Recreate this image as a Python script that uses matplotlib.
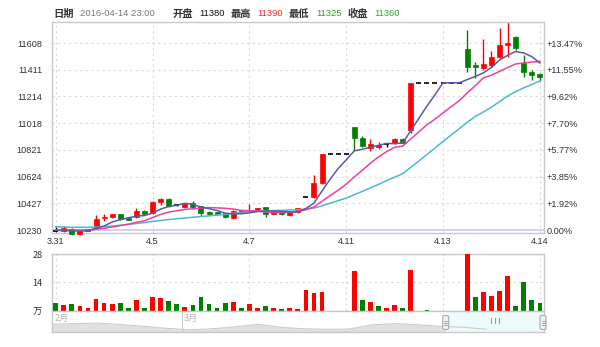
import matplotlib
matplotlib.use('Agg')
import matplotlib.pyplot as plt
import numpy as np
import pandas as pd
from matplotlib.patches import Rectangle, FancyBboxPatch

plt.rcParams['font.family'] = ['Liberation Sans', 'Noto Sans CJK SC', 'DejaVu Sans']
CJK = ['Noto Sans CJK SC', 'DejaVu Sans']

# ---------------- data ----------------
date_labels = ['3.31', '4.5', '4.7', '4.11', '4.13', '4.14']
date_idx = [0, 12, 24, 36, 48, 60]

opens = [10223, 10223, 10235, 10198, 10223, 10247, 10316, 10324, 10346, 10318,
         10328, 10372, 10355, 10434, 10458, 10414, 10399, 10429, 10405, 10363,
         10360, 10353, 10318, 10375, 10365, 10372, 10397, 10350, 10365, 10343,
         10360, 10473, 10471, 10574, 10790, 10790, 10790, 10991, 10906, 10836,
         10844, 10862, 10869, 10903, 10967, 11315, 11315, 11315, 11315, 11315,
         11315, 11564, 11446, 11422, 11446, 11507, 11593, 11649, 11458, 11392,
         11380]
highs = [10250, 10259, 10245, 10232, 10240, 10341, 10346, 10350, 10350, 10324,
         10390, 10377, 10441, 10466, 10466, 10424, 10427, 10446, 10407, 10368,
         10363, 10358, 10377, 10380, 10422, 10395, 10402, 10377, 10370, 10365,
         10395, 10473, 10633, 10790, 10790, 10790, 10790, 10991, 10923, 10898,
         10878, 10873, 10905, 10910, 11315, 11315, 11315, 11315, 11315, 11315,
         11315, 11704, 11470, 11635, 11549, 11716, 11765, 11663, 11520, 11409,
         11390]
lows = [10212, 10215, 10191, 10193, 10220, 10240, 10294, 10321, 10301, 10301,
        10321, 10346, 10350, 10414, 10397, 10407, 10390, 10387, 10333, 10341,
        10343, 10318, 10309, 10360, 10360, 10368, 10328, 10346, 10343, 10333,
        10355, 10473, 10464, 10570, 10790, 10790, 10790, 10820, 10839, 10810,
        10825, 10844, 10862, 10868, 10943, 11315, 11315, 11315, 11315, 11315,
        11315, 11397, 11348, 11409, 11433, 11495, 11507, 11556, 11360, 11335,
        11325]
closes = [10223, 10245, 10198, 10225, 10237, 10311, 10326, 10346, 10311, 10306,
          10370, 10350, 10434, 10458, 10405, 10414, 10422, 10397, 10357, 10346,
          10346, 10324, 10370, 10363, 10380, 10390, 10348, 10372, 10346, 10360,
          10390, 10473, 10574, 10790, 10790, 10790, 10790, 10906, 10849, 10866,
          10858, 10862, 10898, 10873, 11315, 11315, 11315, 11315, 11315, 11315,
          11315, 11433, 11430, 11451, 11507, 11593, 11606, 11570, 11397, 11372,
          11360]
volumes = [3.8, 2.5, 3.0, 2.3, 1.2, 5.6, 3.6, 3.3, 3.6, 1.3,
           5.0, 1.3, 6.5, 6.2, 4.7, 3.0, 1.7, 2.5, 6.5, 3.0,
           1.3, 3.5, 4.0, 1.0, 3.0, 1.0, 2.0, 1.0, 0.8, 1.0,
           0.8, 10.2, 8.5, 9.2, 0, 0, 0, 19.8, 5.2, 4.2,
           2.3, 1.3, 2.5, 1.3, 20.3, 0, 0.3, 0, 0, 0,
           0, 28.0, 6.7, 9.3, 7.2, 9.5, 17.2, 2.2, 14.0, 5.0,
           3.5]
vol_up = [0, 1, 0, 1, 1, 1, 1, 1, 0, 0,
          1, 0, 1, 1, 0, 0, 1, 0, 0, 0,
          0, 0, 1, 0, 1, 1, 0, 1, 0, 1,
          1, 1, 1, 1, 0, 0, 0, 1, 0, 1,
          0, 1, 1, 0, 1, 0, 0, 0, 0, 0,
          0, 1, 0, 1, 1, 1, 1, 0, 0, 0,
          0]
# moving-average values before enough closes exist
ma5_head = [10228, 10226, 10224, 10222]
ma10_head = [10230, 10230, 10229, 10229, 10230, 10235, 10243, 10252, 10262]
ma20_head = [10254, 10252, 10250, 10250, 10250, 10252, 10256, 10259, 10265, 10271,
             10278, 10285, 10293, 10300, 10307, 10313, 10318, 10324, 10329]

price_ticks = [10230, 10427, 10624, 10821, 11018, 11214, 11411, 11608]
pct_labels = ['0.00%', '+1.92%', '+3.85%', '+5.77%', '+7.70%', '+9.62%', '+11.55%', '+13.47%']
vol_ticks = [0, 14, 28]
vol_tick_labels = ['万', '14', '28']

# navigator overview series (height values)
nav_vals = [7.7, 8.4, 8.9, 7.5, 5.7, 3.7, 2.2, 3.2, 5.2, 7.7,
            4.7, 3.2, 2.7, 3.0, 7.2, 8.4, 7.2, 5.7, 4.7, 2.7]

title_open, title_high, title_low, title_close = 11380, 11390, 11325, 11360
title_date = '2016-04-14 23:00'

# ---------------- figure ----------------
W, H = 600, 347
fig = plt.figure(figsize=(W / 100, H / 100), dpi=100)

def ax_px(l, t, r, b):
    return fig.add_axes([l / W, 1 - b / H, (r - l) / W, (b - t) / H])

RED = '#ff0000'
GREEN = '#008000'
GRID = '#d8d8d8'
BORDER = '#c8c8c8'
TXT = '#333333'
FS = 6.6

n = len(closes)
x = np.arange(n)
o = np.array(opens, float); h = np.array(highs, float)
l = np.array(lows, float); c = np.array(closes, float)

ma5 = pd.Series(c).rolling(5).mean().to_numpy(); ma5[:4] = ma5_head
ma10 = pd.Series(c).rolling(10).mean().to_numpy(); ma10[:9] = ma10_head
ma20 = pd.Series(c).rolling(20).mean().to_numpy(); ma20[:19] = ma20_head

# main axes
ax = ax_px(52, 22, 544, 233)
step = 8.07
x0 = 55.7
ax.set_xlim((52 - x0) / step, (544 - x0) / step)
ppp = 196.86 / 26.71
ax.set_ylim(10230 - 3 * ppp, 10230 + 208 * ppp)

for tk in price_ticks[1:]:
    ax.axhline(tk, color=GRID, lw=0.8, ls=(0, (2, 3)), zorder=0)
for di in date_idx:
    ax.axvline(di, color=GRID, lw=0.8, ls=(0, (2, 3)), zorder=0)
ax.axhline(price_ticks[0], color='#c8c8e6', lw=1.2, zorder=0)

bw = 0.62
for i in range(n):
    if c[i] > o[i]:
        col = RED
    elif c[i] < o[i]:
        col = GREEN
    else:
        col = 'black'
    if h[i] > l[i]:
        ax.vlines(i, l[i], h[i], color=col, lw=1, zorder=2, clip_on=False)
    if c[i] != o[i]:
        ax.add_patch(Rectangle((i - bw / 2, min(o[i], c[i])), bw, abs(c[i] - o[i]),
                               facecolor=col, edgecolor=col, lw=0.5, zorder=3, clip_on=False))
    else:
        ax.hlines(o[i], i - bw / 2, i + bw / 2, color='black', lw=1.2, zorder=3)

ax.plot(x, ma20, color='#4cbac8', lw=1.1, zorder=4)
ax.plot(x, ma10, color='#ee3fa0', lw=1.1, zorder=4)
ax.plot(x, ma5, color='#5a5aa8', lw=1.1, zorder=5)

ax.set_yticks(price_ticks)
ax.set_yticklabels([str(tk) for tk in price_ticks])
ax.set_xticks(date_idx)
ax.set_xticklabels(date_labels)
ax.tick_params(axis='both', length=0, labelsize=FS, colors=TXT)
ax.tick_params(axis='y', pad=7)
ax.tick_params(axis='x', pad=3)
for sp in ax.spines.values():
    sp.set_color(BORDER)
    sp.set_linewidth(1)

ax2 = ax.twinx()
ax2.set_ylim(ax.get_ylim())
ax2.set_yticks(price_ticks)
ax2.set_yticklabels(pct_labels)
ax2.tick_params(axis='y', length=0, labelsize=FS, colors=TXT, pad=2)
for sp in ax2.spines.values():
    sp.set_visible(False)

# volume axes
av = ax_px(52, 254, 544, 310.5)
av.set_xlim(ax.get_xlim())
av.set_ylim(0, 28)
vcols = [RED if u else GREEN for u in vol_up]
av.bar(x, volumes, width=0.58, color=vcols, zorder=3)
av.axhline(14, color=GRID, lw=0.8, ls=(0, (2, 3)), zorder=0)
for di in date_idx:
    av.axvline(di, color=GRID, lw=0.8, ls=(0, (2, 3)), zorder=0)
av.set_yticks(vol_ticks)
av.set_yticklabels(vol_tick_labels)
for lab in av.get_yticklabels():
    lab.set_family(CJK)
av.set_xticks([])
av.tick_params(axis='y', length=0, labelsize=FS, colors=TXT, pad=7)
for sp in av.spines.values():
    sp.set_color(BORDER)
    sp.set_linewidth(1)

# navigator
an = ax_px(52, 310.5, 544, 332)
span = len(nav_vals) - 1 + 2.5
an.set_xlim(0, span)
an.set_ylim(0, 21.5)
nx = np.arange(len(nav_vals))
an.fill_between(nx, 0, nav_vals, color='#e0e0e0', lw=0)
an.plot(nx, nav_vals, color='#cccccc', lw=0.8)
sel_l = (445.7 - 52) / 492 * span
an.axvspan(sel_l, span, color='#eefbfd', lw=0)
xm = (181.7 - 52) / 492 * span
an.axvline(xm, color='#cccccc', lw=0.8)
an.text(2.5 / 492 * span, 14, '2月', family=CJK, fontsize=6.5, color='#b4b4b4', va='center')
an.text(xm + 1.5 / 492 * span, 14, '3月', family=CJK, fontsize=6.5, color='#b4b4b4', va='center')
an.set_xticks([]); an.set_yticks([])
for sp in an.spines.values():
    sp.set_color(BORDER)
    sp.set_linewidth(1)

# handles
for hx in (445.7, 543.0):
    fig.patches.append(FancyBboxPatch(((hx - 3) / W, 1 - 329.5 / H), 6 / W, 14 / H,
                                      boxstyle='round,pad=0,rounding_size=0.004',
                                      transform=fig.transFigure, facecolor='#f2f2f2',
                                      edgecolor='#a8a8a8', lw=0.8))
    for dy in (-2, 0, 2):
        fig.lines.append(plt.Line2D([(hx - 1.5) / W, (hx + 1.5) / W],
                                    [1 - (322.5 + dy) / H] * 2,
                                    transform=fig.transFigure, color='#999999', lw=0.6))
for gx in (491, 495, 499):
    fig.lines.append(plt.Line2D([gx / W] * 2, [1 - 318 / H, 1 - 323 / H],
                                transform=fig.transFigure, color='#9a9a9a', lw=0.8))

# title
ty = 1 - 14 / H
def put(xp, s, col, cjk=False, bold=False):
    fig.text(xp / W, ty, s, color=col, fontsize=7.4 if cjk else 6.8,
             family=CJK if cjk else ['Liberation Sans'], va='center', ha='left',
             weight='bold' if bold else 'normal')
put(53.5, '日期', '#333333', True, True)
put(80, title_date, '#777777')
put(172.5, '开盘', '#333333', True, True)
put(199.5, str(title_open), '#111111')
put(230.5, '最高', '#333333', True, True)
put(257.5, str(title_high), '#ff2020')
put(289, '最低', '#333333', True, True)
put(316, str(title_low), '#22aa22')
put(347, '收盘', '#333333', True, True)
put(374, str(title_close), '#22aa22')

fig.savefig('out.png', dpi=100)
